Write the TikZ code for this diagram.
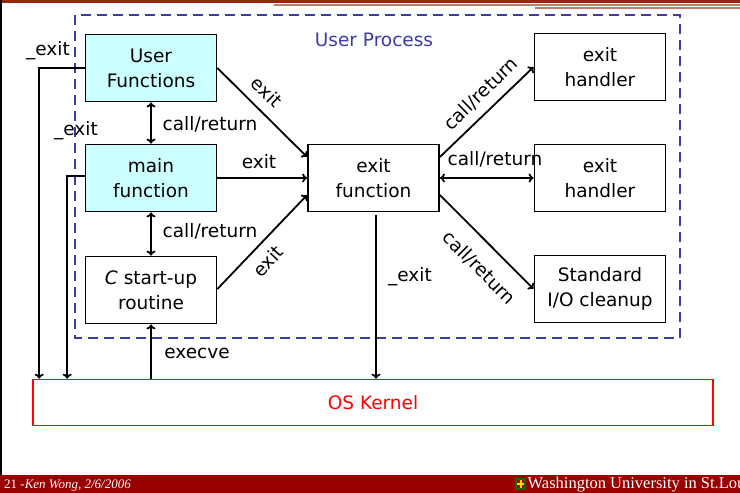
\documentclass[tikz,border=0pt]{standalone}
\usepackage{fontspec}
\setmainfont{DejaVu Sans}
\newfontfamily\slidefoot{Liberation Serif}
\usetikzlibrary{arrows.meta,calc}

\definecolor{procblue}{RGB}{60,60,165}
\definecolor{kernred}{RGB}{255,0,0}
\definecolor{fnfill}{RGB}{204,255,255}
\definecolor{barred}{RGB}{153,0,0}
\definecolor{topbrown}{RGB}{150,40,10}
\definecolor{rulesalmon}{RGB}{200,122,100}

\begin{document}
\begin{tikzpicture}[x=1pt,y=-1pt,
  every node/.style={font=\fontsize{18.5}{25}\selectfont},
  fbox/.style={draw, line width=1.8pt, minimum width=131pt, minimum height=67pt,
               align=center, inner sep=0pt},
  ufn/.style={fbox, fill=fnfill},
  link/.style={line width=1.8pt, -{To[length=5pt,width=9pt]}},
  twoway/.style={line width=1.8pt, {To[length=5pt,width=9pt]}-{To[length=5pt,width=9pt]}},
  lbl/.style={inner sep=1pt},
  foot/.style={anchor=base west, text=white, inner sep=0pt}]

% page frame
\useasboundingbox (0,0) rectangle (740,493);
\fill[white] (0,0) rectangle (740,493);

% slide header rules
\fill[topbrown] (0,0) rectangle (740,2.5);
\draw[rulesalmon, line width=1.5pt] (274,4.8) -- (740,4.8);
\draw[rulesalmon, line width=1.5pt] (535,7.8) -- (740,7.8);
\draw[line width=2pt] (1,0) -- (1,475);

% process boundary
\draw[procblue, line width=2pt, dash pattern=on 10pt off 6pt] (75,15) rectangle (680,338);
\node[text=procblue] (proc) at (374,40) {User Process};

% boxes
\node[ufn]  (user)   at (151,68)    {User\\Functions};
\node[ufn]  (main)   at (151,178)   {main\\function};
\node[fbox] (start)  at (151,290)   {\textit{C} start-up\\routine};
\node[fbox] (exitfn) at (373.5,178) {exit\\function};
\node[fbox] (h1)     at (600,67)    {exit\\handler};
\node[fbox] (h2)     at (600,178)   {exit\\handler};
\node[fbox] (stdio)  at (600,289)   {Standard\\I/O cleanup};
\node[draw=kernred, line width=1.6pt, minimum width=680pt, minimum height=46pt,
      text=kernred] (kernel) at (373,402.5) {OS Kernel};

% calls inside the process
\draw[twoway] (user.south) -- (main.north);
\draw[twoway] (main.south) -- (start.north);
\draw[link] (user.east) -- ($(exitfn.west)+(0,-21)$);
\draw[link] (main.east) -- (exitfn.west);
\draw[link] ($(start.east)+(0,-1)$) -- ($(exitfn.west)+(0,17)$);
\draw[link] ($(exitfn.east)+(0,-21)$) -- (h1.west);
\draw[twoway] (exitfn.east) -- (h2.west);
\draw[link] ($(exitfn.east)+(0,17)$) -- (stdio.west);

% kernel traffic
\draw[link] (user.west) -| ($(kernel.north west)+(7,0)$);
\draw[link] ($(main.west)+(0,-2)$) -| ($(kernel.north west)+(35,0)$);
\draw[link] (start.south |- kernel.north) -- (start.south);
\coordinate (xd) at ($(exitfn.south)+(2.5,3)$);
\draw[link] (xd) -- (xd |- kernel.north);

% connector labels
\node[lbl] (lx1) at (48,51)   {\_exit};
\node[lbl] (lx2) at (76,131)  {\_exit};
\node[lbl] (cr1) at (210,124) {call/return};
\node[lbl] (cr2) at (210,231) {call/return};
\node[lbl] (ex2) at (259,162) {exit};
\node[lbl] (exl) at (197,353) {execve};
\node[lbl] (lx3) at (410,277) {\_exit};
\node[lbl] (cr4) at (495,159) {call/return};
\node[lbl, rotate=-45] (ex1) at (267,92)  {exit};
\node[lbl, rotate=47]  (ex3) at (268,261) {exit};
\node[lbl, rotate=44]  (cr3) at (481,94)  {call/return};
\node[lbl, rotate=-45] (cr5) at (479,268) {call/return};

% slide footer
\fill[barred] (0,475) rectangle (740,493);
\node[foot, font=\slidefoot\fontsize{13}{15}\selectfont] (pg) at (4,488.5)
  {21 -\textit{Ken Wong, 2/6/2006}};
\fill[green!45!black] (515,478) rectangle (526,490);
\fill[red!75!black] (516.8,479.8) rectangle (524.2,488.2);
\fill[yellow!80!orange] (519.5,479.8) rectangle (521.5,488.2);
\fill[yellow!80!orange] (516.8,483) rectangle (524.2,485);
\begin{scope}
  \clip (0,475) rectangle (740,493);
  \node[foot, font=\slidefoot\fontsize{16.5}{18}\selectfont] (uni) at (527.5,488.5)
    {Washington University in St.Louis};
\end{scope}
\end{tikzpicture}
\end{document}
